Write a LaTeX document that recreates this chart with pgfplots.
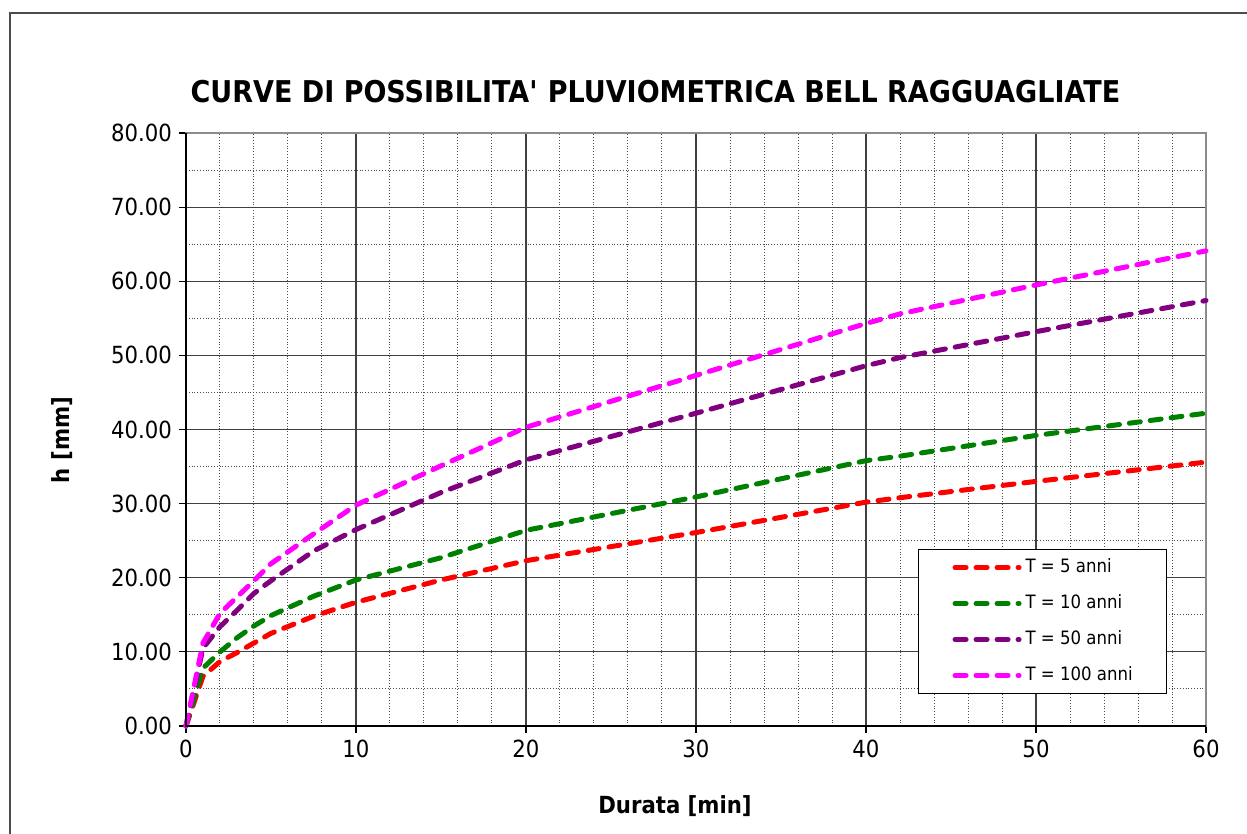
\documentclass[border=0pt]{standalone}
\usepackage{fontspec}
\setmainfont{DejaVu Sans}[FakeStretch=0.9]
\usepackage{pgfplots}
\usepackage{pgfplotstable}
\pgfplotsset{compat=1.18}
\definecolor{cRed}{RGB}{255,0,0}
\definecolor{cGreen}{RGB}{0,128,0}
\definecolor{cPurple}{RGB}{128,0,128}
\definecolor{cPink}{RGB}{255,0,255}
\pgfplotstableread{
t    r     g     p     m
0    0     0     0     0
1    6.7   7.8   10.5  11.2
2    8.7   10.0  13.4  15.2
3    9.9   11.9  15.6  17.4
4    11.2  13.5  17.9  19.6
5    12.5  14.9  19.6  21.9
7.5  14.8  17.5  23.6  25.9
10   16.7  19.7  26.5  29.8
15   19.7  22.7  31.5  35.1
20   22.3  26.4  35.9  40.3
30   26.1  30.9  42.2  47.3
40   30.2  35.8  48.6  54.3
42   30.8  36.4  49.7  55.6
50   33.0  39.2  53.2  59.5
60   35.6  42.2  57.4  64.1
}\datatab
\begin{document}
\begin{tikzpicture}
\begin{axis}[
  scale only axis, width=510pt, height=296.5pt,
  xmin=0, xmax=60, ymin=0, ymax=80,
  xtick={0,10,...,60}, minor x tick num=4,
  ytick={0,10,...,80}, minor y tick num=1,
  grid=both,
  major grid style={black!75, line width=0.55pt},
  minor grid style={black!70, densely dotted, line width=0.5pt},
  axis line style={draw=black!45, line width=1.2pt},
  tick align=outside, tick pos=left,
  major tick length=3.5pt, minor tick length=0pt,
  tick style={black, line width=0.6pt},
  /pgf/number format/assume math mode=true,
  tick label style={font=\fontsize{11.8}{14}\selectfont, text=black},
  yticklabel style={/pgf/number format/.cd, fixed, fixed zerofill, precision=2},
  xticklabel style={/pgf/number format/.cd, fixed, precision=0},
  clip=false,
  legend cell align=left,
  legend image code/.code={\draw[#1] (0pt,0pt) -- (32pt,0pt);},
  legend style={at={(rel axis cs:0.7176,0.2985)}, anchor=north west,
    draw=black, line width=0.6pt, fill=white,
    inner xsep=17pt, inner ysep=4.5pt, row sep=9.1pt, column sep=2pt,
    font=\fontsize{9.2}{11}\selectfont,
    nodes={inner sep=0pt, text height=6.9pt, text depth=2pt}},
  every axis plot/.append style={line width=2.5pt, line cap=round, dash pattern=on 5.5pt off 5pt},
]
\addplot[cRed] table[x=t,y=r]{\datatab};
\addlegendentry{T = 5 anni}
\addplot[cGreen] table[x=t,y=g]{\datatab};
\addlegendentry{T = 10 anni}
\addplot[cPurple] table[x=t,y=p]{\datatab};
\addlegendentry{T = 50 anni}
\addplot[cPink] table[x=t,y=m]{\datatab};
\addlegendentry{T = 100 anni}
\draw[black, line width=1.2pt] (rel axis cs:0,1) -- (rel axis cs:0,0) -- (rel axis cs:1,0);
\node[font=\bfseries\fontsize{15}{18}\selectfont] at (rel axis cs:0.4603,1.0691) {CURVE DI POSSIBILITA\textquotesingle{} PLUVIOMETRICA BELL RAGGUAGLIATE};
\node[font=\bfseries\fontsize{11.8}{14}\selectfont, rotate=90] at (rel axis cs:-0.1216,0.4823) {h [mm]};
\node[font=\bfseries\fontsize{11.8}{14}\selectfont] at (rel axis cs:0.4794,-0.1349) {Durata [min]};
\coordinate (BL) at (rel axis cs:-0.18235,-0.18044);
\coordinate (TR) at (rel axis cs:1.04020,1.22428);
\coordinate (F1) at (rel axis cs:-0.17255,-0.4);
\coordinate (F2) at (rel axis cs:-0.17255,1.20236);
\coordinate (F3) at (rel axis cs:1.3,1.20236);
\end{axis}
\useasboundingbox (BL) rectangle (TR);
\draw[black!70, line width=0.6pt] (F1) -- (F2) -- (F3);
\end{tikzpicture}
\end{document}
